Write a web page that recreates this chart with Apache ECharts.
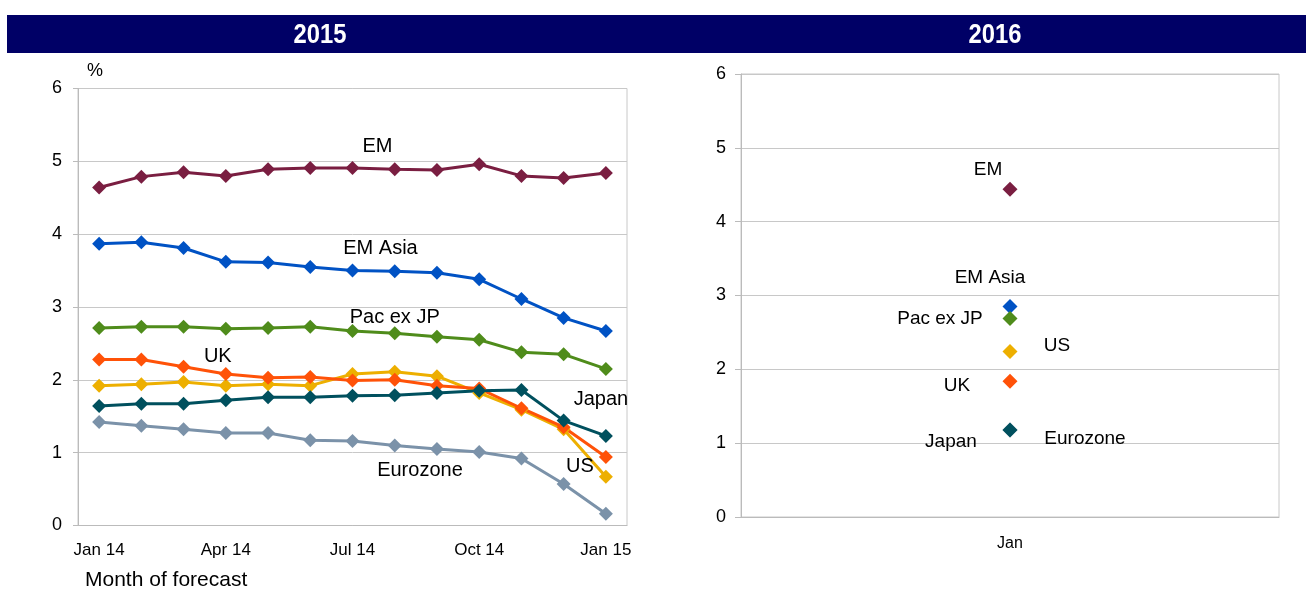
<!DOCTYPE html>
<html>
<head>
<meta charset="utf-8">
<script src="https://cdn.jsdelivr.net/npm/echarts@6/dist/echarts.min.js"></script>
<style>html,body{margin:0;padding:0;background:#fff}#c{width:1306px;height:592px}</style>
</head>
<body>
<div id="c"></div>
<script>
// ---- data ----
const months = ['Jan 14','Feb 14','Mar 14','Apr 14','May 14','Jun 14','Jul 14','Aug 14','Sep 14','Oct 14','Nov 14','Dec 14','Jan 15'];
const yTicks = [0,1,2,3,4,5,6];
const seriesNames = ['EM','EM Asia','Pac ex JP','Eurozone','US','UK','Japan'];
const em2015       = [4.64,4.79,4.85,4.80,4.89,4.91,4.91,4.89,4.88,4.96,4.80,4.77,4.84];
const emAsia2015   = [3.87,3.89,3.81,3.62,3.61,3.55,3.50,3.49,3.47,3.38,3.11,2.85,2.67];
const pacExJp2015  = [2.71,2.73,2.73,2.70,2.71,2.73,2.67,2.64,2.59,2.55,2.38,2.35,2.15];
const eurozone2015 = [1.42,1.37,1.32,1.27,1.27,1.17,1.16,1.10,1.05,1.01,0.92,0.57,0.16];
const us2015       = [1.92,1.94,1.97,1.92,1.94,1.92,2.08,2.11,2.05,1.82,1.59,1.32,0.67];
const uk2015       = [2.28,2.28,2.18,2.08,2.03,2.04,1.99,2.00,1.92,1.88,1.61,1.35,0.94];
const japan2015    = [1.64,1.67,1.67,1.72,1.76,1.76,1.78,1.79,1.82,1.85,1.86,1.44,1.23];
const cat2016 = ['Jan'];
const em2016 = [4.44];
const emAsia2016 = [2.85];
const pacExJp2016 = [2.69];
const eurozone2016 = [1.18];
const us2016 = [2.24];
const uk2016 = [1.84];
const japan2016 = [1.18];
const panelTitles = ['2015','2016'];

// ---- styles ----
const colors = {
  'EM':'#7A1E41','EM Asia':'#0052C4','Pac ex JP':'#4F8C1B','Eurozone':'#7B92A9',
  'US':'#EDAF00','UK':'#FF5208','Japan':'#00505E'
};
const data2015 = {'EM':em2015,'EM Asia':emAsia2015,'Pac ex JP':pacExJp2015,'Eurozone':eurozone2015,'US':us2015,'UK':uk2015,'Japan':japan2015};
const data2016 = {'EM':em2016,'EM Asia':emAsia2016,'Pac ex JP':pacExJp2016,'Eurozone':eurozone2016,'US':us2016,'UK':uk2016,'Japan':japan2016};
const labelPos2015 = {
  'EM':{i:6,o:[25,-21]},'EM Asia':{i:6,o:[28,-22]},'Pac ex JP':{i:7,o:[0,-16]},
  'UK':{i:3,o:[-8,-18]},'Japan':{i:12,o:[-5,-36]},'Eurozone':{i:8,o:[-17,21]},'US':{i:12,o:[-26,-10]}
};
const labelPos2016 = {
  'EM':[-22,-19],'EM Asia':[-20,-29],'Pac ex JP':[-70,0],'US':[47,-6],'UK':[-53,5],'Japan':[-59,12],'Eurozone':[75,9]
};
const FONT = 'Liberation Sans, Arial, sans-serif';
const gridLineColor = '#c8c8c8';

const series = [];
seriesNames.forEach(name => {
  const lp = labelPos2015[name];
  series.push({
    name: name, type: 'line', xAxisIndex: 0, yAxisIndex: 0,
    symbol: 'diamond', symbolSize: 14,
    lineStyle: {width: 3, color: colors[name]},
    itemStyle: {color: colors[name], opacity: 1},
    data: data2015[name].map((v, i) => i === lp.i ? {
      value: v,
      label: {show: true, position: 'inside', offset: lp.o, formatter: name,
        color: '#000', fontSize: 20, fontFamily: FONT}
    } : v),
    animation: false
  });
});
seriesNames.forEach(name => {
  series.push({
    name: name + ' 2016', type: 'scatter', xAxisIndex: 1, yAxisIndex: 1,
    symbol: 'diamond', symbolSize: 15,
    itemStyle: {color: colors[name], opacity: 1},
    label: {show: true, position: 'inside', offset: labelPos2016[name], formatter: name,
      color: '#000', fontSize: 19, fontFamily: FONT},
    data: data2016[name],
    animation: false
  });
});

const chart = echarts.init(document.getElementById('c'));
chart.setOption({
  animation: false,
  textStyle: {fontFamily: FONT},
  graphic: [
    {type: 'rect', shape: {x: 7, y: 15, width: 1299, height: 38}, style: {fill: '#000066'}, silent: true},
    {type: 'text', x: 320, y: 35, scaleX: 0.85, style: {text: panelTitles[0], fill: '#fff', font: 'bold 28px ' + FONT, textAlign: 'center', textVerticalAlign: 'middle'}},
    {type: 'text', x: 995, y: 35, scaleX: 0.85, style: {text: panelTitles[1], fill: '#fff', font: 'bold 28px ' + FONT, textAlign: 'center', textVerticalAlign: 'middle'}}
  ],
  title: [
    {text: '%', left: 87, top: 62, textStyle: {fontSize: 18, fontWeight: 'normal', color: '#000', fontFamily: FONT}, padding: 0},
    {text: 'Month of forecast', left: 85, top: 570, textStyle: {fontSize: 21, fontWeight: 'normal', color: '#000', fontFamily: FONT}, padding: 0}
  ],
  grid: [
    {left: 78, right: 679, top: 88.5, bottom: 66.5, show: true, borderColor: gridLineColor, borderWidth: 1},
    {left: 741, right: 27, top: 74, bottom: 75, show: true, borderColor: gridLineColor, borderWidth: 1}
  ],
  xAxis: [
    {type: 'category', gridIndex: 0, data: months, boundaryGap: true,
      axisLine: {lineStyle: {color: '#bbb'}}, axisTick: {show: false},
      axisLabel: {interval: 2, color: '#000', fontSize: 17, margin: 16, fontFamily: FONT}},
    {type: 'category', gridIndex: 1, data: cat2016, boundaryGap: true,
      axisLine: {lineStyle: {color: '#bbb'}}, axisTick: {show: false},
      axisLabel: {color: '#000', fontSize: 16, margin: 19, fontFamily: FONT}}
  ],
  yAxis: [
    {type: 'value', gridIndex: 0, min: yTicks[0], max: yTicks[yTicks.length-1], interval: 1,
      axisLine: {show: true, lineStyle: {color: '#bbb'}},
      axisTick: {show: true, length: 5, lineStyle: {color: '#bbb'}},
      splitLine: {lineStyle: {color: gridLineColor}},
      axisLabel: {color: '#000', fontSize: 18, margin: 16, fontFamily: FONT}},
    {type: 'value', gridIndex: 1, min: yTicks[0], max: yTicks[yTicks.length-1], interval: 1,
      axisLine: {show: true, lineStyle: {color: '#bbb'}},
      axisTick: {show: true, length: 6, lineStyle: {color: '#bbb'}},
      splitLine: {lineStyle: {color: gridLineColor}},
      axisLabel: {color: '#000', fontSize: 18, margin: 15, fontFamily: FONT}}
  ],
  series: series
});
</script>
</body>
</html>
